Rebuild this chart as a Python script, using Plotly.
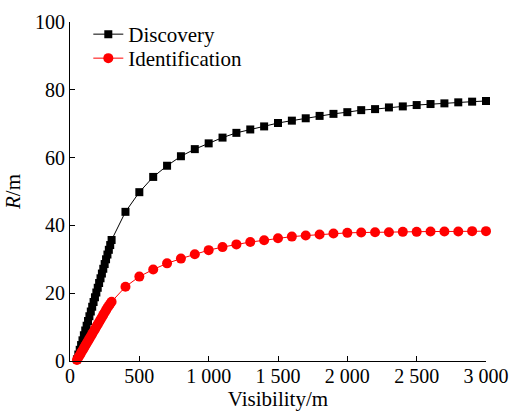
import plotly.graph_objects as go

visibility = [50, 60, 70, 80, 90, 100, 110, 120, 130, 140, 150, 160, 170, 180, 190, 200,
              210, 220, 230, 240, 250, 260, 270, 280, 290, 300,
              400, 500, 600, 700, 800, 900, 1000, 1100, 1200, 1300, 1400, 1500, 1600, 1700,
              1800, 1900, 2000, 2100, 2200, 2300, 2400, 2500, 2600, 2700, 2800, 2900, 3000]

discovery = [0.5, 1.9, 3.3, 4.7, 6.1, 7.6, 9.0, 10.4, 11.8, 13.2, 14.6, 16.0, 17.4, 18.8,
             20.2, 21.6, 23.0, 24.4, 25.8, 27.2, 28.6, 30.0, 31.4, 32.8, 34.2, 35.7,
             44.0, 49.8, 54.3, 57.6, 60.4, 62.5, 64.2, 65.9, 67.3, 68.3, 69.2, 70.2, 70.9,
             71.6, 72.3, 72.9, 73.4, 74.0, 74.3, 74.8, 75.1, 75.5, 75.8, 76.0, 76.3, 76.5, 76.7]

identification = [0.3, 1.0, 1.7, 2.4, 3.1, 3.8, 4.5, 5.2, 5.9, 6.6, 7.3, 8.0, 8.7, 9.4,
                  10.1, 10.8, 11.5, 12.2, 12.9, 13.6, 14.3, 15.0, 15.7, 16.3, 16.9, 17.5,
                  21.9, 24.9, 27.0, 28.8, 30.2, 31.5, 32.7, 33.6, 34.4, 35.1, 35.6, 36.2, 36.7,
                  37.0, 37.3, 37.6, 37.8, 37.9, 38.0, 38.0, 38.1, 38.1, 38.2, 38.2, 38.2, 38.3, 38.3]

x_tickvals = [0, 500, 1000, 1500, 2000, 2500, 3000]
x_ticktext = ["0", "500", "1 000", "1 500", "2 000", "2 500", "3 000"]
y_tickvals = [0, 20, 40, 60, 80, 100]

serif = '"Times New Roman", "Liberation Serif", Times, serif'

fig = go.Figure()
fig.add_trace(go.Scatter(x=visibility, y=discovery, mode="lines+markers", name="Discovery",
                         line=dict(color="black", width=1),
                         marker=dict(symbol="square", size=8, color="black"),
                         cliponaxis=False, legend="legend"))
fig.add_trace(go.Scatter(x=visibility, y=identification, mode="lines+markers", name="Identification",
                         line=dict(color="#ff0000", width=1),
                         marker=dict(symbol="circle", size=10, color="#ff0000"),
                         cliponaxis=False, legend="legend2"))

legend_common = dict(xanchor="left", yanchor="top", bgcolor="rgba(0,0,0,0)",
                     font=dict(family=serif, size=21, color="black"))

fig.update_layout(
    width=511, height=411,
    margin=dict(l=70, r=25, t=22, b=50, autoexpand=False),
    paper_bgcolor="white", plot_bgcolor="white",
    font=dict(family=serif, size=20, color="black"),
    showlegend=True,
    legend=dict(x=0.044, y=1.0236, **legend_common),
    legend2=dict(x=0.044, y=0.9528, **legend_common),
)
fig.update_xaxes(range=[0, 3000], tickvals=x_tickvals, ticktext=x_ticktext,
                 showline=True, linecolor="black", linewidth=1, mirror=False,
                 ticks="inside", ticklen=5, tickcolor="black", showgrid=False, zeroline=False,
                 ticklabelstandoff=-3,
                 title=dict(text="Visibility/m", standoff=2, font=dict(family=serif, size=21)),
                 tickfont=dict(family=serif, size=20))
fig.update_yaxes(range=[0, 100], tickvals=y_tickvals,
                 showline=True, linecolor="black", linewidth=1, mirror=False,
                 ticks="inside", ticklen=5, tickcolor="black", showgrid=False, zeroline=False,
                 title=dict(text="<i>R</i>/m", standoff=8, font=dict(family=serif, size=21)),
                 tickfont=dict(family=serif, size=20))

fig.write_html("out.html",
               config={"displayModeBar": False},
               post_script="document.body.style.margin='0';document.body.style.overflow='hidden';")
